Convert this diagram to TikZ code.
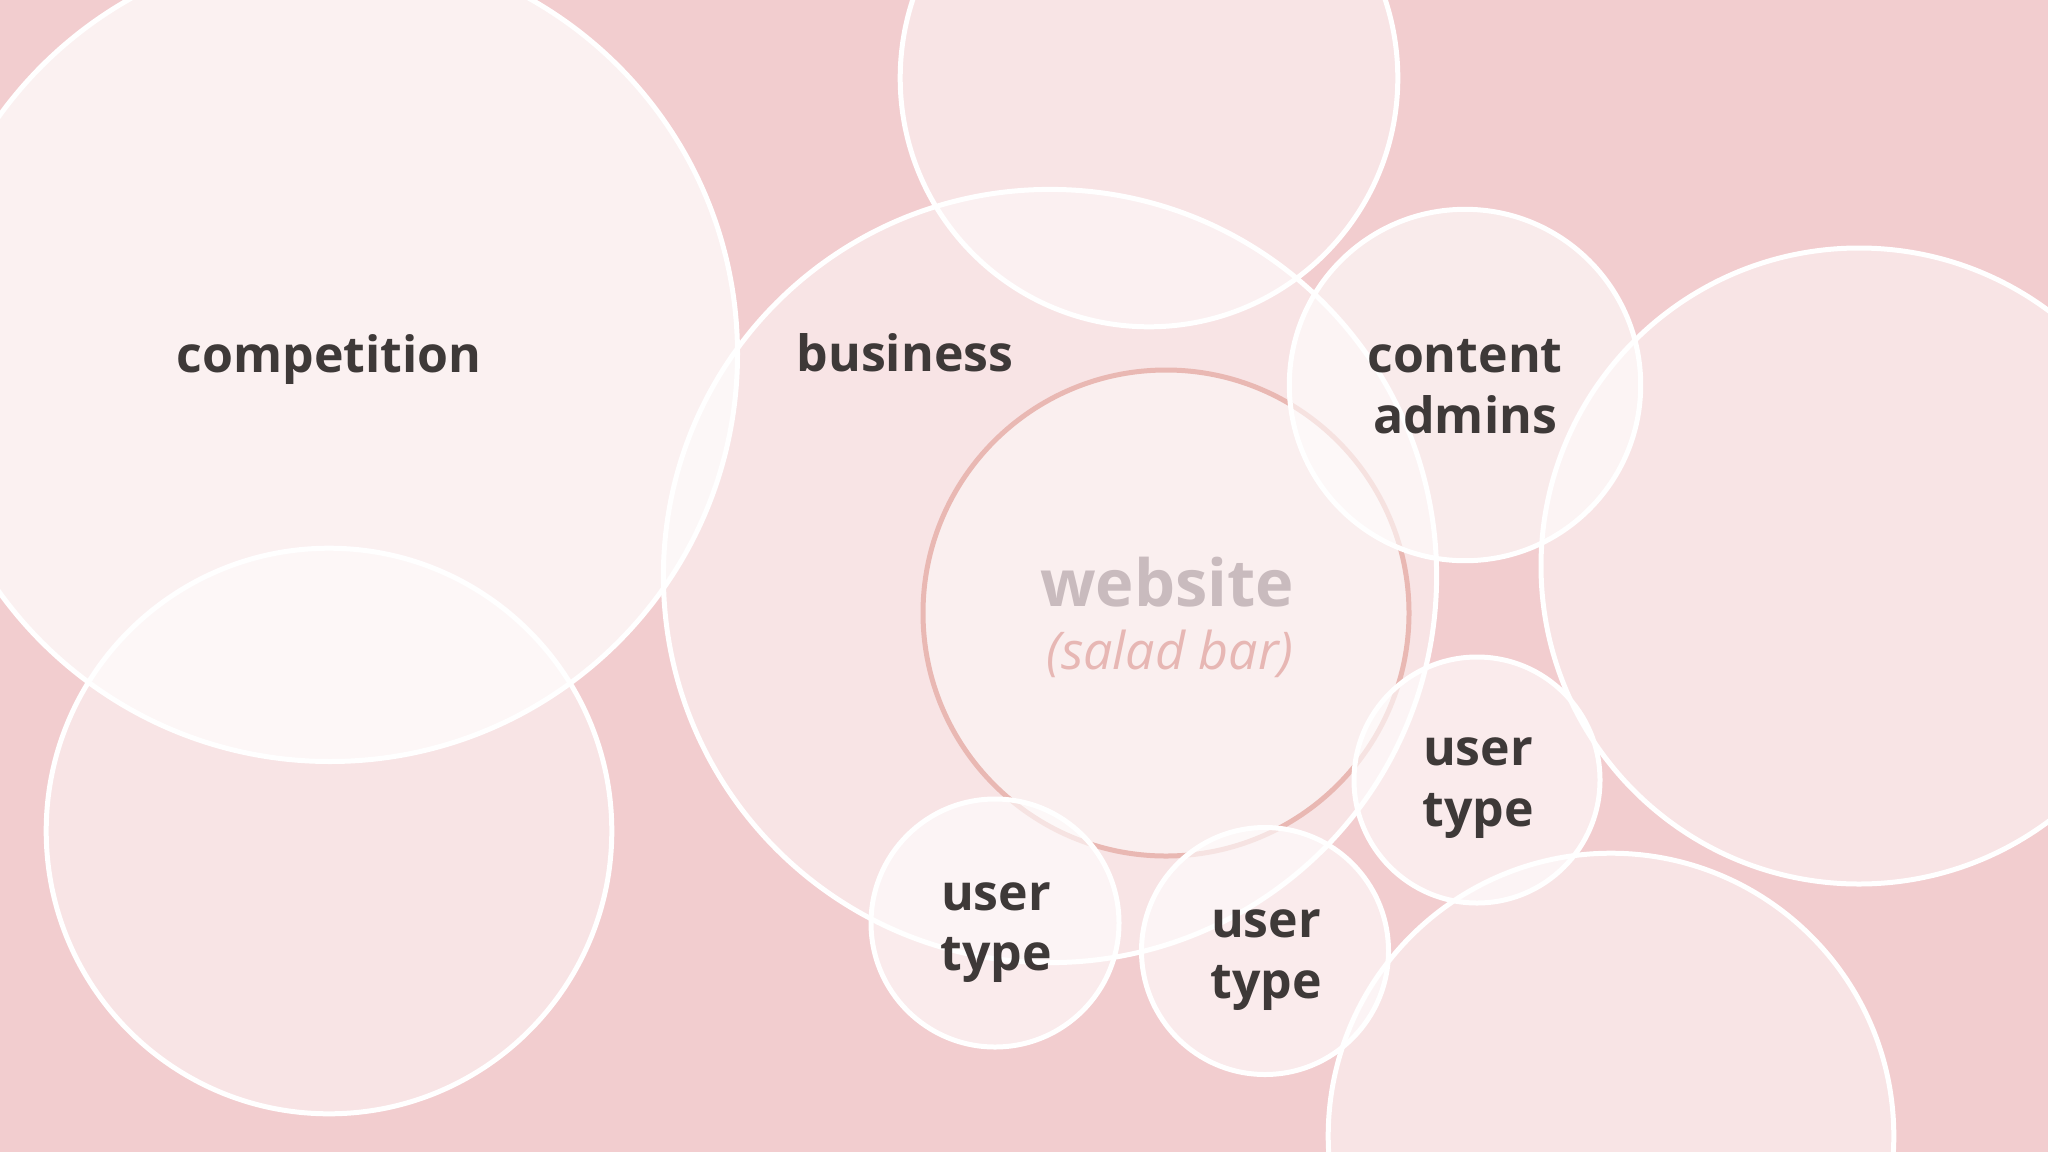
\documentclass[tikz,border=0pt]{standalone}
\usepackage{fontspec}
\setmainfont{Open Sans}
\definecolor{bgpink}{HTML}{F2CDCF}
\definecolor{txtdark}{HTML}{3E3938}
\definecolor{webtxt}{HTML}{C9BBBE}
\definecolor{saladtxt}{HTML}{E7B7B4}
\definecolor{webline}{HTML}{E9B8B3}
\begin{document}
\begin{tikzpicture}[x=1pt,y=-1pt,
  bubble/.style={circle, inner sep=0pt, draw=white, line width=5pt, fill=white, fill opacity=0.47},
  lbl/.style={anchor=base, inner sep=0pt, text=txtdark, font=\fontsize{50}{60}\selectfont\bfseries},
]
\useasboundingbox (0,0) rectangle (2048,1152);
\fill[bgpink] (0,0) rectangle (2048,1152);
\begin{scope}
\clip (0,0) rectangle (2048,1152);
\node[bubble, minimum size=565.6pt] (lowleft) at (329,831) {};
\node[bubble, minimum size=815pt, fill opacity=0.72] (competition) at (330,354) {};
\node[bubble, minimum size=497.6pt] (top) at (1149,78) {};
\node[bubble, minimum size=773.2pt] (business) at (1050,576) {};
\node[bubble, minimum size=636pt] (rightbig) at (1859,566) {};
\node[bubble, minimum size=565.6pt] (lowright) at (1611,1136) {};
\node[bubble, minimum size=486pt, draw=webline, fill opacity=0.42] (website) at (1166,613) {};
\node[bubble, minimum size=351.4pt, fill opacity=0.6] (admins) at (1465,385) {};
\node[bubble, minimum size=246pt, fill opacity=0.62] (userR) at (1477,780) {};
\node[bubble, minimum size=248pt, fill opacity=0.62] (userL) at (995,923) {};
\node[bubble, minimum size=247pt, fill opacity=0.62] (userM) at (1265,951) {};
\end{scope}
\node[lbl] (t-competition) at (329,372) {competition};
\node[lbl] (t-business) at (905,371) {business};
\node[lbl] (t-content) at (1465,372) {content};
\node[lbl] (t-admins) at (1465,433) {admins};
\node[lbl, text=webtxt, font=\fontsize{65}{78}\selectfont\bfseries] (t-website) at (1167,606) {website};
\node[lbl, text=saladtxt, font=\fontsize{52}{62}\selectfont\itshape] (t-salad) at (1170,669) {(salad bar)};
\node[lbl] (t-userR1) at (1478,765) {user};
\node[lbl] (t-userR2) at (1478,826) {type};
\node[lbl] (t-userL1) at (996,910) {user};
\node[lbl] (t-userL2) at (996,970) {type};
\node[lbl] (t-userM1) at (1266,937) {user};
\node[lbl] (t-userM2) at (1266,998) {type};
\end{tikzpicture}
\end{document}
